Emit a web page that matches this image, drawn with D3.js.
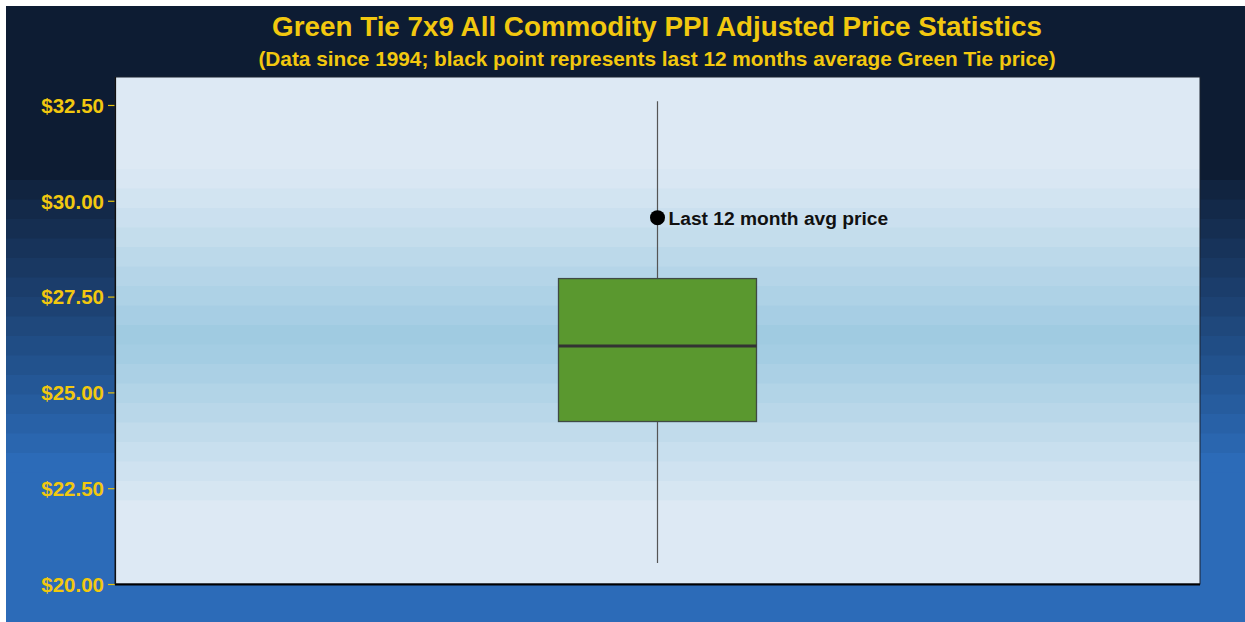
<!DOCTYPE html>
<html>
<head>
<meta charset="utf-8">
<script src="https://cdnjs.cloudflare.com/ajax/libs/d3/7.8.5/d3.min.js"></script>
<style>
  body { margin: 0; background: #fff; }
  svg { display: block; }
  text { font-family: "Liberation Sans", Arial, sans-serif; font-weight: bold; }
</style>
</head>
<body>
<div id="chart"></div>
<script>
// Box plot statistics
var categories = ["Green Tie 7x9"];
var whiskerLow = [20.55];
var q1 = [24.24];
var median = [26.21];
var q3 = [27.97];
var whiskerHigh = [32.60];
var last12Avg = [29.56];
var yTicks = [20, 22.5, 25, 27.5, 30, 32.5];

var width = 1245, height = 622;
var margin = {top: 77, right: 45, bottom: 38, left: 115};
var plotW = width - margin.left - margin.right;
var plotH = height - margin.top - margin.bottom;

var svg = d3.select("#chart").append("svg")
    .attr("width", width)
    .attr("height", height);

// outer background: dark navy fading to blue in steps
var bg = svg.append("g");
var dark = "#0d1c33", blue = "#2c6bb8";
bg.append("rect").attr("x", 6).attr("y", 6).attr("width", width - 6).attr("height", height - 6).attr("fill", dark);
var nBands = 15, bandTop = 180, bandH = 19.5;
for (var i = 0; i < nBands; i++) {
  bg.append("rect")
    .attr("x", 6).attr("y", bandTop + i * bandH)
    .attr("width", width - 6).attr("height", bandH + 1)
    .attr("fill", d3.interpolateRgb("#112440", blue)(i / (nBands - 1)));
}
bg.append("rect").attr("x", 6).attr("y", bandTop + nBands * bandH)
  .attr("width", width - 6).attr("height", height).attr("fill", blue);

var g = svg.append("g").attr("transform", "translate(" + margin.left + "," + margin.top + ")");

// panel background: light at edges, darker blue in middle, stepped
var light = "#dde9f4", mid = "#9ecae1";
g.append("rect").attr("width", plotW).attr("height", plotH).attr("fill", light);
var pc = 262, half = 170, ph = 19.5;
for (var yy = pc - half; yy < pc + half; yy += ph) {
  var t = 1 - Math.abs(yy + ph / 2 - pc) / half;
  g.append("rect").attr("x", 0).attr("y", yy)
    .attr("width", plotW).attr("height", ph + 0.5)
    .attr("fill", d3.interpolateRgb(light, mid)(Math.max(0, t)));
}

var y = d3.scaleLinear().domain([20, 33.23]).range([plotH, 0]);
var x = d3.scaleBand().domain(categories).range([0, plotW]).paddingInner(0).paddingOuter(2.24);

var yAxis = g.append("g")
  .call(d3.axisLeft(y).tickValues(yTicks).tickSize(7).tickPadding(4)
    .tickFormat(function(d) { return "$" + d3.format(".2f")(d); }));
yAxis.select(".domain").remove();
yAxis.selectAll(".tick line").attr("stroke", "#e8c20a").attr("stroke-width", 1.2);
yAxis.selectAll(".tick text").attr("fill", "#f2c80f").style("font-size", "20.5px").attr("dy", "0.36em");

var cx = function(d) { return x(d) + x.bandwidth() / 2; };

// whiskers
g.selectAll(".whisker").data(categories).enter().append("line")
  .attr("class", "whisker")
  .attr("x1", cx).attr("x2", cx)
  .attr("y1", function(d, i) { return y(whiskerLow[i]); })
  .attr("y2", function(d, i) { return y(whiskerHigh[i]); })
  .attr("stroke", "#555").attr("stroke-width", 1.2);

// box
g.selectAll(".box").data(categories).enter().append("rect")
  .attr("class", "box")
  .attr("x", function(d) { return x(d); })
  .attr("width", x.bandwidth())
  .attr("y", function(d, i) { return y(q3[i]); })
  .attr("height", function(d, i) { return y(q1[i]) - y(q3[i]); })
  .attr("fill", "#5a982f").attr("stroke", "#3f4a44").attr("stroke-width", 1.3);

// median
g.selectAll(".median").data(categories).enter().append("line")
  .attr("x1", function(d) { return x(d); })
  .attr("x2", function(d) { return x(d) + x.bandwidth(); })
  .attr("y1", function(d, i) { return y(median[i]); })
  .attr("y2", function(d, i) { return y(median[i]); })
  .attr("stroke", "#333").attr("stroke-width", 3);

// last 12 month point + label
g.selectAll(".pt").data(categories).enter().append("circle")
  .attr("cx", cx)
  .attr("cy", function(d, i) { return y(last12Avg[i]); })
  .attr("r", 7.5).attr("fill", "#000");
g.selectAll(".lbl").data(categories).enter().append("text")
  .attr("x", function(d) { return cx(d) + 11; })
  .attr("y", function(d, i) { return y(last12Avg[i]); })
  .attr("dy", "0.36em")
  .style("font-size", "19.2px").attr("fill", "#111")
  .text("Last 12 month avg price");

// panel border
g.append("rect").attr("width", plotW).attr("height", plotH)
  .attr("fill", "none").attr("stroke", "#1b2230").attr("stroke-width", 1);
g.append("line").attr("x1", 0).attr("x2", plotW).attr("y1", plotH + 0.5).attr("y2", plotH + 0.5)
  .attr("stroke", "#000").attr("stroke-width", 2);
g.append("line").attr("x1", 0.5).attr("x2", 0.5).attr("y1", 0).attr("y2", plotH)
  .attr("stroke", "#111").attr("stroke-width", 1.2);

// titles
svg.append("text").attr("x", 657).attr("y", 36).attr("text-anchor", "middle")
  .attr("fill", "#f2c80f").style("font-size", "27.8px")
  .text("Green Tie 7x9 All Commodity PPI Adjusted Price Statistics");
svg.append("text").attr("x", 657).attr("y", 66).attr("text-anchor", "middle")
  .attr("fill", "#f2c80f").style("font-size", "20.8px")
  .text("(Data since 1994; black point represents last 12 months average Green Tie price)");
</script>
</body>
</html>
